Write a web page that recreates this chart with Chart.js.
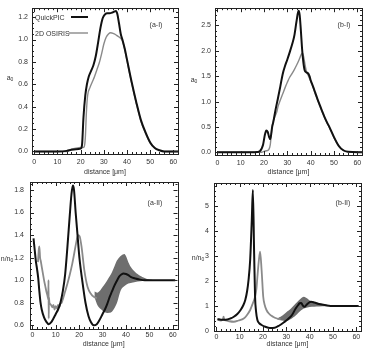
<!DOCTYPE html>
<html>
<head>
<meta charset="utf-8">
<script src="https://cdn.jsdelivr.net/npm/chart.js@4.4.1/dist/chart.umd.min.js"></script>
<style>
  body { margin: 0; background: #fff; width: 366px; height: 348px; overflow: hidden; position: relative; }
  canvas { position: absolute; }
</style>
</head>
<body>
<canvas id="chart-a1" width="183" height="180" style="left:0;top:0"></canvas>
<canvas id="chart-b1" width="183" height="180" style="left:183px;top:0"></canvas>
<canvas id="chart-a2" width="183" height="178" style="left:0;top:170px"></canvas>
<canvas id="chart-b2" width="183" height="178" style="left:183px;top:170px"></canvas>
<script>
// --- shared axis values ---
const xTicks = [0, 10, 20, 30, 40, 50, 60];
const X_MIN = -1, X_MAX = 62;

// --- (a-I) ---
const a1QuickX = [0, 10, 14, 16, 18, 20, 20.6, 21.2, 22, 22.7, 23.5, 24.5, 25.5, 26.5, 27.5, 28.5, 29.5, 30.5, 31.5, 32.5, 33.5, 34.5, 35.2, 35.8, 36.5, 37.3, 38, 39, 40, 42, 44, 46, 48, 50, 52, 54, 56, 62];
const a1QuickY = [0, 0, 0.005, 0.015, 0.02, 0.025, 0.06, 0.3, 0.5, 0.6, 0.67, 0.72, 0.77, 0.85, 0.97, 1.1, 1.19, 1.225, 1.235, 1.235, 1.24, 1.25, 1.255, 1.23, 1.15, 1.05, 1.0, 0.92, 0.82, 0.62, 0.44, 0.28, 0.17, 0.08, 0.03, 0.01, 0, 0];
const a1OsirisX = [0, 14, 16, 18, 20, 21, 21.5, 22, 22.5, 23, 24, 25, 26, 27, 28, 29, 30, 31, 32, 33, 34, 35, 36, 37, 38, 39, 40, 42, 44, 46, 48, 50, 52, 54, 56, 62];
const a1OsirisY = [0, 0, 0.02, 0.03, 0.035, 0.035, 0.04, 0.12, 0.36, 0.5, 0.57, 0.62, 0.67, 0.73, 0.79, 0.87, 0.96, 1.02, 1.05, 1.06, 1.055, 1.045, 1.03, 1.015, 0.99, 0.91, 0.81, 0.61, 0.43, 0.27, 0.16, 0.075, 0.03, 0.01, 0, 0];
const a1YTicks = [0, 0.2, 0.4, 0.6, 0.8, 1.0, 1.2];

// --- (b-I) ---
const b1QuickX = [0, 15, 17, 18.2, 19.6, 20.4, 21, 21.6, 22.2, 22.7, 23.5, 24, 25, 26, 27, 28, 29, 30, 31, 32, 33, 34, 34.8, 35.3, 35.8, 36.3, 36.8, 37.4, 38, 39, 39.5, 40, 41, 42, 43, 44, 45, 46, 47, 48, 50, 52, 54, 56, 62];
const b1QuickY = [0, 0, 0.005, 0.02, 0.15, 0.35, 0.43, 0.4, 0.3, 0.26, 0.5, 0.6, 0.85, 1.07, 1.3, 1.54, 1.7, 1.83, 1.97, 2.12, 2.3, 2.6, 2.79, 2.7, 2.4, 2.05, 1.8, 1.62, 1.58, 1.55, 1.5, 1.42, 1.3, 1.17, 1.04, 0.92, 0.8, 0.69, 0.59, 0.5, 0.3, 0.13, 0.04, 0.01, 0];
const b1OsirisX = [0, 19, 20, 21, 22, 22.7, 23.3, 24, 24.8, 25.5, 26, 27, 28, 29, 30, 31, 32, 33, 34, 35, 36, 36.5, 37, 37.5, 38, 38.5, 39, 40, 41, 42, 43, 44, 45, 46, 47, 48, 50, 52, 54, 56, 62];
const b1OsirisY = [0, 0, 0.02, 0.03, 0.05, 0.15, 0.45, 0.62, 0.72, 0.8, 0.9, 1.03, 1.15, 1.27, 1.38, 1.48, 1.55, 1.63, 1.72, 1.82, 1.93, 1.96, 1.88, 1.75, 1.63, 1.56, 1.51, 1.4, 1.28, 1.15, 1.03, 0.91, 0.79, 0.68, 0.58, 0.49, 0.29, 0.12, 0.04, 0.01, 0];
const b1YTicks = [0, 0.5, 1.0, 1.5, 2.0, 2.5];

// --- (a-II) ---
const a2QuickX = [0.5, 1, 1.5, 2, 2.5, 3, 3.5, 4, 5, 6, 7, 8, 9, 10, 11, 12, 13, 14, 15, 16, 16.7, 17.3, 17.8, 18.5, 19.3, 20.1, 21.3, 22.7, 24, 25, 26.3, 27.5, 28.5, 30, 31, 32, 33, 34, 35, 36, 37, 38, 39, 40, 41, 42, 44, 46, 48, 50, 55, 61];
const a2QuickY = [1.37, 1.27, 1.17, 1.1, 1.02, 0.9, 0.8, 0.74, 0.67, 0.63, 0.61, 0.625, 0.66, 0.7, 0.74, 0.8, 0.9, 1.05, 1.3, 1.58, 1.76, 1.84, 1.8, 1.6, 1.4, 1.2, 1.0, 0.8, 0.68, 0.63, 0.6, 0.61, 0.64, 0.7, 0.74, 0.79, 0.85, 0.9, 0.95, 0.99, 1.03, 1.05, 1.06, 1.055, 1.045, 1.03, 1.015, 1.005, 1.0, 1.0, 1.0, 1.0];
const a2OsirisX = [2.4, 2.8, 3.0, 3.3, 3.6, 4, 4.5, 5, 5.5, 6, 6.5, 6.8, 6.9, 7.0, 7.1, 7.3, 7.6, 8, 8.5, 9, 9.5, 10, 10.5, 11, 11.5, 12, 12.5, 13, 14, 15, 16, 17, 18, 19, 19.6, 20.2, 21, 22.2, 23.6, 25, 26.4, 27.5];
const a2OsirisY = [1.16, 1.28, 1.3, 1.2, 1.17, 1.12, 1.06, 1.0, 0.95, 0.9, 0.86, 0.83, 1.0, 0.66, 0.85, 0.8, 0.79, 0.78, 0.76, 0.78, 0.74, 0.77, 0.75, 0.78, 0.76, 0.79, 0.8, 0.83, 0.9, 0.97, 1.05, 1.14, 1.25, 1.36, 1.4, 1.39, 1.3, 1.09, 0.94, 0.88, 0.85, 0.84];
const a2BandX = [26.5, 28, 30, 32, 34, 36, 37, 38, 39.5, 41, 42, 44, 46, 48, 50, 52];
const a2BandHi = [0.9, 0.89, 0.94, 1.0, 1.07, 1.17, 1.2, 1.22, 1.23, 1.16, 1.12, 1.07, 1.04, 1.02, 1.005, 1.0];
const a2BandLo = [0.85, 0.77, 0.73, 0.71, 0.72, 0.79, 0.86, 0.92, 0.95, 0.97, 0.975, 0.985, 0.99, 0.995, 1.0, 1.0];
const a2YTicks = [0.6, 0.8, 1.0, 1.2, 1.4, 1.6, 1.8];

// --- (b-II) ---
const b2QuickX = [0.5, 2, 4, 6, 7.5, 9, 10.4, 11.5, 12.4, 13.2, 13.8, 14.5, 15.2, 15.66, 16.2, 16.6, 17, 17.6, 18.5, 19.4, 21, 23, 25, 27, 29, 31, 32.5, 34, 35, 35.7, 36.4, 37, 37.7, 38.5, 39.5, 40.6, 42, 44, 47, 50, 55, 61];
const b2QuickY = [0.48, 0.45, 0.45, 0.5, 0.57, 0.68, 0.84, 1.02, 1.24, 1.6, 2.04, 2.84, 4.44, 5.64, 3.1, 1.37, 0.8, 0.44, 0.3, 0.24, 0.17, 0.12, 0.13, 0.22, 0.35, 0.5, 0.65, 0.9, 1.03, 1.11, 1.12, 1.03, 0.97, 1.03, 1.12, 1.17, 1.14, 1.08, 1.03, 1.0, 1.0, 1.0];
const b2OsirisX = [0.5, 2, 2.8, 3.1, 3.4, 4, 5.5, 7.5, 9.5, 11.75, 13, 14.5, 15.6, 16.6, 17.2, 17.6, 18.2, 18.75, 19.4, 20.1, 20.7, 21.5, 22.5, 24.3, 26, 27.5];
const b2OsirisY = [0.45, 0.42, 0.45, 0.57, 0.45, 0.42, 0.39, 0.37, 0.42, 0.5, 0.62, 0.84, 1.1, 1.37, 1.7, 2.17, 2.8, 3.17, 2.44, 1.37, 1.05, 0.84, 0.7, 0.57, 0.5, 0.47];
const b2BandX = [26, 28, 30, 32, 34, 36, 37.5, 39, 40, 42, 44, 47, 50, 52];
const b2BandHi = [0.5, 0.6, 0.75, 0.9, 1.1, 1.28, 1.37, 1.3, 1.22, 1.16, 1.12, 1.05, 1.01, 1.0];
const b2BandLo = [0.47, 0.42, 0.4, 0.48, 0.62, 0.8, 0.9, 0.94, 0.96, 0.97, 0.98, 0.99, 1.0, 1.0];
const b2YTicks = [0, 1, 2, 3, 4, 5];

const FONT = { family: "'Liberation Sans', Arial, sans-serif", size: 7 };
const TEXT_COLOR = '#333';
const BLACK = '#111';
const GREY = '#8a8a8a';
const BAND = '#6e6e6e';

const pts = (xs, ys) => xs.map((x, i) => ({ x: x, y: ys[i] }));

function quickSet(xs, ys) {
    return { label: 'QuickPIC', data: pts(xs, ys), borderColor: BLACK, borderWidth: 2, cubicInterpolationMode: 'monotone', order: 0 };
}
function osirisSet(xs, ys, w) {
    return { label: '2D OSIRIS', data: pts(xs, ys), borderColor: GREY, borderWidth: w || 1.4, cubicInterpolationMode: 'monotone', order: 1 };
}
function bandSets(xs, lo, hi) {
    return [
        { label: 'band-lo', data: pts(xs, lo), borderWidth: 0, borderColor: BAND, backgroundColor: BAND, tension: 0.3, order: 2 },
        { label: 'band-hi', data: pts(xs, hi), borderWidth: 0, borderColor: BAND, backgroundColor: BAND, tension: 0.3, fill: '-1', order: 2 }
    ];
}

// frame with inward ticks on all sides, labels drawn as plain text
const framePlugin = {
    id: 'frame',
    afterDatasetsDraw(chart, args, opts) {
        const { ctx, chartArea: a, scales: { x, y } } = chart;
        ctx.save();
        ctx.strokeStyle = '#222';
        ctx.lineWidth = 1;
        ctx.beginPath();
        for (let v = 0; v <= X_MAX; v += 2) {
            const px = Math.round(x.getPixelForValue(v)) + 0.5;
            const len = v % 10 === 0 ? 4 : 2;
            ctx.moveTo(px, a.bottom); ctx.lineTo(px, a.bottom - len);
            ctx.moveTo(px, a.top); ctx.lineTo(px, a.top + len);
        }
        const n = Math.round((y.max - y.min) / opts.yMinor) + 2;
        const start = Math.ceil(y.min / opts.yMinor - 1e-6);
        for (let k = start; k < start + n; k++) {
            const v = k * opts.yMinor;
            if (v > y.max) break;
            const py = Math.round(y.getPixelForValue(v)) + 0.5;
            const major = Math.abs(v / opts.yMajor - Math.round(v / opts.yMajor)) < 1e-6;
            const len = major ? 4 : 2;
            ctx.moveTo(a.left, py); ctx.lineTo(a.left + len, py);
            ctx.moveTo(a.right, py); ctx.lineTo(a.right - len, py);
        }
        ctx.stroke();
        ctx.strokeRect(Math.round(a.left) + 0.5, Math.round(a.top) + 0.5, Math.round(a.right - a.left), Math.round(a.bottom - a.top));

        // y title with a small subscript
        ctx.fillStyle = TEXT_COLOR;
        ctx.textBaseline = 'middle';
        ctx.textAlign = 'left';
        ctx.font = `${FONT.size}px ${FONT.family}`;
        const [base, sub] = opts.yTitle;
        const bw = ctx.measureText(base).width;
        ctx.font = `5px ${FONT.family}`;
        const sw = ctx.measureText(sub).width;
        const tx = opts.yTitlePos[0] - (bw + sw) / 2;
        ctx.font = `${FONT.size}px ${FONT.family}`;
        ctx.fillText(base, tx, opts.yTitlePos[1]);
        ctx.font = `5px ${FONT.family}`;
        ctx.fillText(sub, tx + bw, opts.yTitlePos[1] + 2);

        ctx.font = `${FONT.size}px ${FONT.family}`;
        ctx.textAlign = 'center';
        ctx.fillText(opts.tag, opts.tagPos[0], opts.tagPos[1]);

        if (opts.legend) {
            ctx.textAlign = 'left';
            opts.legend.forEach((row, i) => {
                const ds = chart.data.datasets[i];
                ctx.fillStyle = TEXT_COLOR;
                ctx.fillText(ds.label, row.x, row.y);
                ctx.strokeStyle = ds.borderColor;
                ctx.lineWidth = ds.borderWidth;
                ctx.beginPath();
                ctx.moveTo(row.x0, row.y - 1);
                ctx.lineTo(row.x1, row.y - 1);
                ctx.stroke();
            });
        }
        ctx.restore();
    }
};

function makePanel(id, p) {
    return new Chart(document.getElementById(id), {
        type: 'line',
        data: { datasets: p.datasets },
        options: {
            responsive: false,
            animation: false,
            layout: { padding: { left: 0, top: p.top, right: p.right, bottom: 0 } },
            elements: { point: { radius: 0 } },
            plugins: {
                legend: { display: false },
                tooltip: { enabled: false },
                frame: p.frame
            },
            scales: {
                x: {
                    type: 'linear', min: X_MIN, max: X_MAX,
                    grid: { display: false, drawTicks: false },
                    border: { display: false },
                    afterBuildTicks: s => { s.ticks = xTicks.map(v => ({ value: v })); },
                    afterFit: s => { s.height = p.xHeight; },
                    ticks: { font: FONT, color: TEXT_COLOR, padding: p.xPad, maxRotation: 0, autoSkip: false },
                    title: { display: true, text: 'distance [μm]', font: FONT, color: TEXT_COLOR, padding: { top: 0, bottom: p.titlePad } }
                },
                y: {
                    type: 'linear', min: p.yMin, max: p.yMax,
                    grid: { display: false, drawTicks: false },
                    border: { display: false },
                    afterBuildTicks: s => { s.ticks = p.yTicks.map(v => ({ value: v })); },
                    afterFit: s => { s.width = p.yWidth; },
                    ticks: { font: FONT, color: TEXT_COLOR, padding: p.yPad, autoSkip: false, callback: v => v.toFixed(p.yDigits) }
                }
            }
        },
        plugins: [framePlugin]
    });
}

makePanel('chart-a1', {
    datasets: [quickSet(a1QuickX, a1QuickY), osirisSet(a1OsirisX, a1OsirisY)],
    top: 8, right: 5, yWidth: 32, xHeight: 26, xPad: 4, yPad: 4, titlePad: 4,
    yMin: -0.023, yMax: 1.28, yTicks: a1YTicks, yDigits: 1,
    frame: {
        yMinor: 0.05, yMajor: 0.2, yTitle: ['a', '0'], yTitlePos: [10, 78], tag: '(a-I)', tagPos: [156, 25],
        legend: [{ x: 35, y: 18, x0: 71, x1: 88 }, { x: 35, y: 34, x0: 69, x1: 88 }]
    }
});

makePanel('chart-b1', {
    datasets: [quickSet(b1QuickX, b1QuickY), osirisSet(b1OsirisX, b1OsirisY)],
    top: 8, right: 4, yWidth: 32, xHeight: 25, xPad: 4, yPad: 4, titlePad: 4,
    yMin: -0.053, yMax: 2.84, yTicks: b1YTicks, yDigits: 1,
    frame: { yMinor: 0.1, yMajor: 0.5, yTitle: ['a', '0'], yTitlePos: [11, 80], tag: '(b-I)', tagPos: [161, 25] }
});

makePanel('chart-a2', {
    datasets: [quickSet(a2QuickX, a2QuickY), osirisSet(a2OsirisX, a2OsirisY, 1.8), ...bandSets(a2BandX, a2BandLo, a2BandHi)],
    top: 12, right: 5.5, yWidth: 30, xHeight: 19, xPad: 2, yPad: 6, titlePad: 0,
    yMin: 0.567, yMax: 1.871, yTicks: a2YTicks, yDigits: 1,
    frame: { yMinor: 0.05, yMajor: 0.2, yTitle: ['n/n', '0'], yTitlePos: [7, 89], tag: '(a-II)', tagPos: [155, 33] }
});

makePanel('chart-b2', {
    datasets: [quickSet(b2QuickX, b2QuickY), osirisSet(b2OsirisX, b2OsirisY, 1.8), ...bandSets(b2BandX, b2BandLo, b2BandHi)],
    top: 13, right: 5, yWidth: 31, xHeight: 17, xPad: 2, yPad: 5, titlePad: 0,
    yMin: 0, yMax: 5.92, yTicks: b2YTicks, yDigits: 0,
    frame: { yMinor: 0.2, yMajor: 1, yTitle: ['n/n', '0'], yTitlePos: [15, 88], tag: '(b-II)', tagPos: [160, 33] }
});
</script>
</body>
</html>
